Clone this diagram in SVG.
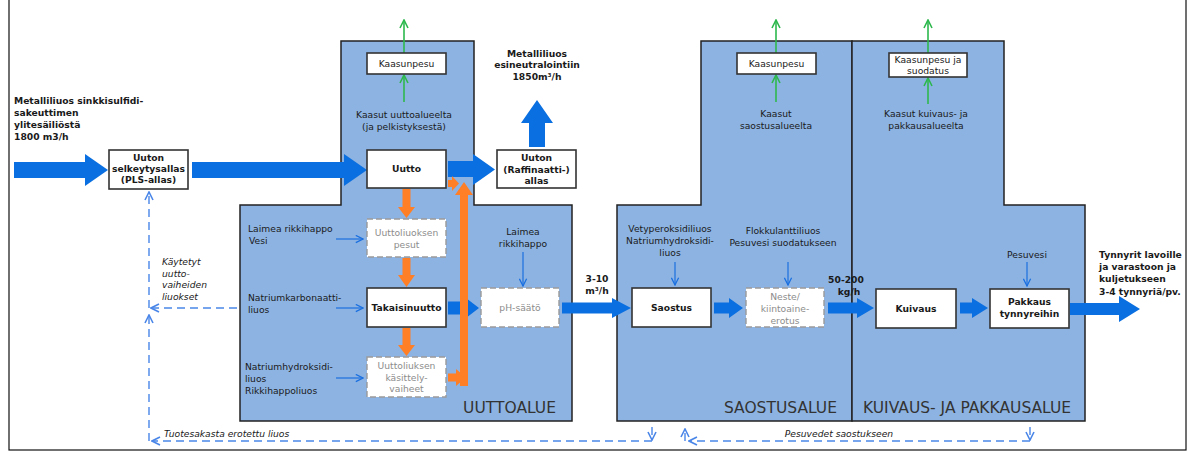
<svg xmlns="http://www.w3.org/2000/svg" width="1194" height="459" viewBox="0 0 1194 459">
<style>
.t{font-family:"DejaVu Sans",Verdana,sans-serif;font-size:9.2px;fill:#1a1a1a}
.b{font-weight:bold}
.c{text-anchor:middle}
.g{fill:#8c8c8c}
.i{font-style:italic}
.z{font-family:"DejaVu Sans",Verdana,sans-serif;font-size:15.5px;fill:#333}
.reg{fill:#8db3e2;stroke:#222;stroke-width:1.5}
.box{fill:#fff;stroke:#333;stroke-width:1.6}
.dbox{fill:#fff;stroke:#9a9a9a;stroke-width:1.4;stroke-dasharray:6 3}
.big{fill:#0a6fe0}
.or{fill:#ff7f27}
.sm{stroke:#1a6fe0;stroke-width:1.2;fill:none}
.gr{stroke:#2db84d;stroke-width:1.6;fill:none}
.dl{stroke:#4a86e8;stroke-width:1.4;fill:none;stroke-dasharray:8 5}
</style>
<defs>
<marker id="ab" viewBox="0 0 10 10" refX="9" refY="5" markerWidth="9" markerHeight="9" markerUnits="userSpaceOnUse" orient="auto"><path d="M1,1 L9,5 L1,9" fill="none" stroke="#1a6fe0" stroke-width="1.4"/></marker>
<marker id="ag" viewBox="0 0 10 10" refX="9" refY="5" markerWidth="10" markerHeight="10" markerUnits="userSpaceOnUse" orient="auto"><path d="M1,1 L9,5 L1,9" fill="none" stroke="#2db84d" stroke-width="1.6"/></marker>
<marker id="ad" viewBox="0 0 10 10" refX="9" refY="5" markerWidth="10" markerHeight="10" markerUnits="userSpaceOnUse" orient="auto"><path d="M1,1 L9,5 L1,9" fill="none" stroke="#4a86e8" stroke-width="1.6"/></marker>
<clipPath id="frame"><rect x="9" y="0" width="1177" height="450"/></clipPath>
</defs>
<rect x="0" y="0" width="1194" height="459" fill="#fff"/>

<g id="uuttoalue"><path class="reg" d="M341,41 H474 V205 H572 V421 H240 V205 H341 Z"/><text class="z" x="556" y="413" text-anchor="end">UUTTOALUE</text></g>
<g id="saostusalue"><path class="reg" d="M701,41 H852 V421 H617 V205 H701 Z"/><text class="z" x="837" y="413" text-anchor="end">SAOSTUSALUE</text></g>
<g id="kuivausalue"><path class="reg" d="M852,41 H1004 V205 H1085 V421 H852 Z"/><text class="z" x="863" y="413">KUIVAUS- JA PAKKAUSALUE</text></g>

<g id="connectors">
<polygon class="big" points="14,162 85,162 85,154 108,170 85,186 85,178 14,178"/>
<polygon class="big" points="192,162 344,162 344,154 367,170 344,186 344,178 192,178"/>
<polygon class="big" points="448,161 473,161 473,154 495,169.5 473,185 473,177 448,177"/>
<polygon class="big" points="529,147 529,123 521,123 537,100 553,123 545,123 545,147"/>
<polygon class="big" points="448,301.5 466,301.5 466,298 479,308 466,318 466,314.5 448,314.5"/>
<polygon class="big" points="562,302.5 612,302.5 612,298 631,308 612,318 612,313.5 562,313.5"/>
<polygon class="big" points="714,302.5 729,302.5 729,298 743,308 729,318 729,313.5 714,313.5"/>
<polygon class="big" points="828,302.5 857,302.5 857,298 874,308 857,318 857,313.5 828,313.5"/>
<polygon class="big" points="960,302.5 972,302.5 972,298 988,308 972,318 972,313.5 960,313.5"/>
<polygon class="big" points="1070,303 1119,303 1119,296 1140,309 1119,322 1119,315 1070,315"/>

<polygon class="or" points="402.5,189 410.5,189 410.5,207 415,207 406.5,218 398,207 402.5,207"/>
<polygon class="or" points="402.5,258 410.5,258 410.5,275 415,275 406.5,287 398,275 402.5,275"/>
<polygon class="or" points="402.5,328 410.5,328 410.5,345 415,345 406.5,356 398,345 402.5,345"/>
<polygon class="or" points="448,373.5 456,373.5 456,369 466,377.5 456,386 456,381.5 448,381.5"/>
<polygon class="or" points="460,386 460,195 455,195 464,182 473,195 468,195 468,386"/>
<polygon class="or" points="448,180 452,180 452,176 459,183.5 452,191 452,187 448,187"/>

<line class="sm" x1="336" y1="239" x2="363" y2="239" marker-end="url(#ab)"/>
<line class="sm" x1="336" y1="308" x2="363" y2="308" marker-end="url(#ab)"/>
<line class="sm" x1="336" y1="378" x2="363" y2="378" marker-end="url(#ab)"/>
<line class="sm" x1="523" y1="252" x2="523" y2="286" marker-end="url(#ab)"/>
<line class="sm" x1="675" y1="262" x2="675" y2="285" marker-end="url(#ab)"/>
<line class="sm" x1="788" y1="262" x2="788" y2="285" marker-end="url(#ab)"/>
<line class="sm" x1="1027" y1="262" x2="1027" y2="286" marker-end="url(#ab)"/>

<line class="gr" x1="404" y1="53" x2="404" y2="20" marker-end="url(#ag)"/>
<line class="gr" x1="404" y1="102" x2="404" y2="75" marker-end="url(#ag)"/>
<line class="gr" x1="776" y1="53" x2="776" y2="20" marker-end="url(#ag)"/>
<line class="gr" x1="776" y1="102" x2="776" y2="75" marker-end="url(#ag)"/>
<line class="gr" x1="928" y1="53" x2="928" y2="20" marker-end="url(#ag)"/>
<line class="gr" x1="928" y1="104" x2="928" y2="78" marker-end="url(#ag)"/>

<path class="dl" d="M149,308 V192" marker-end="url(#ad)"/>
<path class="dl" d="M237,308 H151" marker-end="url(#ad)"/>
<path class="dl" d="M149,441 V315" marker-end="url(#ad)"/>
<path class="dl" d="M652,441 H152" marker-end="url(#ad)"/>
<path class="dl" d="M652,427 V440" marker-end="url(#ad)"/>
<path class="dl" d="M1030,441 H689" marker-end="url(#ad)"/>
<path class="dl" d="M1030,427 V440" marker-end="url(#ad)"/>
<path class="dl" d="M685,441 V429" marker-end="url(#ad)"/>
</g>

<g id="n-input"><text class="t b"><tspan x="14" y="103.5">Metalliliuos sinkkisulfidi-</tspan><tspan x="14" y="115.5">sakeuttimen</tspan><tspan x="14" y="127.5">ylitesäiliöstä</tspan><tspan x="14" y="139.5">1800 m3/h</tspan></text></g>
<g id="n-selkeytysallas"><rect class="box" x="109" y="150" width="79" height="39"/><text class="t b c"><tspan x="148.5" y="160.5">Uuton</tspan><tspan x="148.5" y="171.5">selkeytysallas</tspan><tspan x="148.5" y="182.5">(PLS-allas)</tspan></text></g>
<g id="n-kaasunpesu1"><rect class="box" x="367" y="53" width="79" height="21"/><text class="t c" x="406.5" y="67">Kaasunpesu</text></g>
<g id="n-kaasut1"><text class="t c"><tspan x="404" y="118">Kaasut uuttoalueelta</tspan><tspan x="404" y="130">(ja pelkistyksestä)</tspan></text></g>
<g id="n-uutto"><rect class="box" x="367" y="150" width="79" height="38"/><text class="t b c" x="406.5" y="172">Uutto</text></g>
<g id="n-raffinaatti"><rect class="box" x="497" y="150" width="79" height="38"/><text class="t b c"><tspan x="536.5" y="161">Uuton</tspan><tspan x="536.5" y="172.5">(Raffinaatti-)</tspan><tspan x="536.5" y="184">allas</tspan></text></g>
<g id="n-esineutralointi"><text class="t b c"><tspan x="537" y="56.5">Metalliliuos</tspan><tspan x="537" y="68">esineutralointiin</tspan><tspan x="537" y="79.5">1850m³/h</tspan></text></g>
<g id="n-laimea1"><text class="t"><tspan x="248" y="232">Laimea rikkihappo</tspan><tspan x="249" y="244">Vesi</tspan></text></g>
<g id="n-pesut"><rect class="dbox" x="367" y="219" width="79" height="38"/><text class="t c g"><tspan x="406.5" y="236">Uuttoliuoksen</tspan><tspan x="406.5" y="247.5">pesut</tspan></text></g>
<g id="n-natriumkarb"><text class="t"><tspan x="248" y="301">Natriumkarbonaatti-</tspan><tspan x="248" y="312.5">liuos</tspan></text></g>
<g id="n-takaisinuutto"><rect class="box" x="367" y="288" width="79" height="39"/><text class="t b c" x="406.5" y="310.5">Takaisinuutto</text></g>
<g id="n-natriumhydr1"><text class="t"><tspan x="245" y="370">Natriumhydroksidi-</tspan><tspan x="245" y="382">liuos</tspan><tspan x="245" y="394">Rikkihappoliuos</tspan></text></g>
<g id="n-kasittely"><rect class="dbox" x="367" y="357" width="79" height="40"/><text class="t c g"><tspan x="406.5" y="369">Uuttoliuksen</tspan><tspan x="406.5" y="380.5">käsittely-</tspan><tspan x="406.5" y="392">vaiheet</tspan></text></g>
<g id="n-laimea2"><text class="t c"><tspan x="523" y="235">Laimea</tspan><tspan x="523" y="246.5">rikkihappo</tspan></text></g>
<g id="n-phsaato"><rect class="dbox" x="481" y="288" width="78" height="39"/><text class="t c g" x="520" y="310.5">pH-säätö</text></g>
<g id="n-flow1"><text class="t b c"><tspan x="597" y="282">3-10</tspan><tspan x="597" y="294">m³/h</tspan></text></g>
<g id="n-kaasunpesu2"><rect class="box" x="737" y="53" width="79" height="21"/><text class="t c" x="776.5" y="67">Kaasunpesu</text></g>
<g id="n-kaasut2"><text class="t c"><tspan x="776" y="117">Kaasut</tspan><tspan x="776" y="129">saostusalueelta</tspan></text></g>
<g id="n-vetyperoksidi"><text class="t c"><tspan x="670" y="231.5">Vetyperoksidiliuos</tspan><tspan x="670" y="243.5">Natriumhydroksidi-</tspan><tspan x="670" y="255.5">liuos</tspan></text></g>
<g id="n-saostus"><rect class="box" x="632" y="288" width="79" height="39"/><text class="t b c" x="671.5" y="310.5">Saostus</text></g>
<g id="n-flokkulantti"><text class="t c"><tspan x="783" y="234">Flokkulanttiliuos</tspan><tspan x="783" y="246">Pesuvesi suodatukseen</tspan></text></g>
<g id="n-neste"><rect class="dbox" x="746" y="288" width="78" height="39"/><text class="t c g"><tspan x="785" y="300">Neste/</tspan><tspan x="785" y="312">kiintoaine-</tspan><tspan x="785" y="324">erotus</tspan></text></g>
<g id="n-flow2"><text class="t b c"><tspan x="846" y="283">50-200</tspan><tspan x="849" y="294.5">kg/h</tspan></text></g>
<g id="n-kaasunpesu3"><rect class="box" x="889" y="53" width="78" height="24"/><text class="t c"><tspan x="928" y="62.5">Kaasunpesu ja</tspan><tspan x="928" y="74">suodatus</tspan></text></g>
<g id="n-kaasut3"><text class="t c"><tspan x="926" y="117">Kaasut kuivaus- ja</tspan><tspan x="926" y="129">pakkausalueelta</tspan></text></g>
<g id="n-pesuvesi"><text class="t c" x="1027" y="258">Pesuvesi</text></g>
<g id="n-kuivaus"><rect class="box" x="876" y="289" width="80" height="39"/><text class="t b c" x="916" y="311.5">Kuivaus</text></g>
<g id="n-pakkaus"><rect class="box" x="990" y="289" width="79" height="39"/><text class="t b c"><tspan x="1029.5" y="305">Pakkaus</tspan><tspan x="1029.5" y="316.5">tynnyreihin</tspan></text></g>
<g id="n-output" clip-path="url(#frame)"><text class="t b"><tspan x="1099" y="258">Tynnyrit lavoille</tspan><tspan x="1099" y="270">ja varastoon ja</tspan><tspan x="1099" y="282">kuljetukseen</tspan><tspan x="1099" y="295">3-4 tynnyriä/pv.</tspan></text></g>
<g id="n-kaytetyt"><text class="t i"><tspan x="162" y="265">Käytetyt</tspan><tspan x="162" y="276.5">uutto-</tspan><tspan x="162" y="288">vaiheiden</tspan><tspan x="162" y="299.5">liuokset</tspan></text></g>
<g id="n-tuotesakasta"><text class="t i" x="164" y="437">Tuotesakasta erotettu liuos</text></g>
<g id="n-pesuvedet"><text class="t i c" x="839" y="437">Pesuvedet saostukseen</text></g>

<rect x="9" y="-2" width="1177" height="452" fill="none" stroke="#111" stroke-width="1.2"/>
</svg>
